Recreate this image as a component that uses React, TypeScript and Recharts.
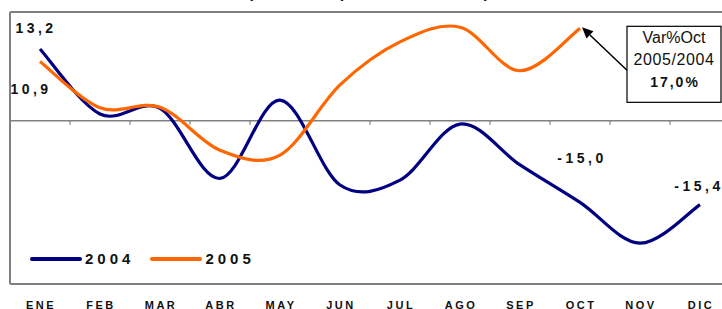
import React from "react";
import {
  LineChart,
  Line,
  XAxis,
  YAxis,
  ReferenceLine,
  ReferenceDot,
  Legend,
  LabelList,
} from "recharts";

const MESES = ["ENE", "FEB", "MAR", "ABR", "MAY", "JUN", "JUL", "AGO", "SEP", "OCT", "NOV", "DIC"];
const SERIE_2004 = [13.2, 1.25, 2.3, -10.6, 3.8, -11.8, -10.9, -0.6, -8.1, -15.0, -22.5, -15.4];
const SERIE_2005 = [10.9, 2.4, 2.5, -5.4, -6.3, 6.6, 14.5, 17.2, 9.2, 17.0, null, null];
const ETIQUETAS_2004 = [0, 9, 11];
const ETIQUETAS_2005 = [0];
const DOMINIO_Y = [-30, 20];
const TITULO = "(Variación porcentual anual)";
const NOTA_MES = "OCT";
const NOTA_VALOR = 17.0;
const NOTA_TEXTO = ["Var%Oct", "2005/2004", "17,0%"];

const data = MESES.map((mes, i) => ({
  mes,
  a2004: SERIE_2004[i],
  a2005: SERIE_2005[i],
}));

const AZUL = "#000080";
const NARANJA = "#FF6600";
const GRIS = "#808080";
const FUENTE = "'Liberation Sans', Arial, sans-serif";

// desplazamiento de cada etiqueta respecto a su punto
const DESPL_2004: Record<number, [number, number]> = { 0: [-4, -21], 9: [2, -44], 11: [-1, -19] };
const DESPL_2005: Record<number, [number, number]> = { 0: [-9, 27] };

// suavizado tipo Excel (Catmull-Rom)
const curvaSuave = (context: any) => {
  let pts: [number, number][] = [];
  return {
    areaStart() {},
    areaEnd() {},
    lineStart() {
      pts = [];
    },
    lineEnd() {
      if (!pts.length) return;
      context.moveTo(pts[0][0], pts[0][1]);
      for (let i = 0; i < pts.length - 1; i++) {
        const p0 = pts[Math.max(0, i - 1)];
        const p1 = pts[i];
        const p2 = pts[i + 1];
        const p3 = pts[Math.min(pts.length - 1, i + 2)];
        context.bezierCurveTo(
          p1[0] + (p2[0] - p0[0]) / 6,
          p1[1] + (p2[1] - p0[1]) / 6,
          p2[0] - (p3[0] - p1[0]) / 6,
          p2[1] - (p3[1] - p1[1]) / 6,
          p2[0],
          p2[1]
        );
      }
    },
    point(x: number, y: number) {
      pts.push([x, y]);
    },
  };
};

const etiqueta = (indices: number[], despl: Record<number, [number, number]>) => (props: any) => {
  const { index, value } = props;
  if (!indices.includes(index) || value == null) return null;
  const vb = props.viewBox || {};
  const x = props.x ?? vb.x;
  const y = props.y ?? vb.y;
  const [dx, dy] = despl[index] || [0, -15];
  return (
    <text
      x={x + dx}
      y={y + dy}
      textAnchor="middle"
      dominantBaseline="central"
      fontFamily={FUENTE}
      fontSize={14}
      fontWeight="bold"
      letterSpacing={3.5}
      fill="#111"
    >
      {Number(value).toFixed(1).replace(".", ",")}
    </text>
  );
};

const lineaCero = (props: any) => {
  const { x1, x2, y1 } = props;
  const a = Math.min(x1, x2);
  const b = Math.max(x1, x2);
  const paso = (b - a) / MESES.length;
  return (
    <g>
      <line x1={a} x2={b} y1={y1} y2={y1} stroke={GRIS} strokeWidth={1.5} />
      {Array.from({ length: MESES.length + 1 }, (_, i) => (
        <line key={i} x1={a + i * paso} x2={a + i * paso} y1={y1} y2={y1 + 4} stroke={GRIS} strokeWidth={1.2} />
      ))}
    </g>
  );
};

const nota = (props: any) => {
  const { cx, cy } = props;
  const bx = cx + 47;
  const by = cy - 2;
  const sx = bx;
  const sy = cy + 42;
  const tx = cx + 2;
  const ty = cy - 1;
  const ang = Math.atan2(ty - sy, tx - sx);
  const hl = 11;
  const hw = 5;
  const bxh = tx - hl * Math.cos(ang);
  const byh = ty - hl * Math.sin(ang);
  const punta = [
    [tx, ty],
    [bxh + hw * Math.sin(ang), byh - hw * Math.cos(ang)],
    [bxh - hw * Math.sin(ang), byh + hw * Math.cos(ang)],
  ]
    .map((p) => p.join(","))
    .join(" ");
  return (
    <g>
      <line x1={sx} y1={sy} x2={bxh} y2={byh} stroke="#000" strokeWidth={1.5} />
      <polygon points={punta} fill="#000" />
      <rect x={bx} y={by} width={94} height={76} fill="#fff" stroke="#000" strokeWidth={1.2} />
      <text x={bx + 47} y={by + 11} textAnchor="middle" dominantBaseline="central" fontFamily={FUENTE} fontSize={16} fill="#111">
        {NOTA_TEXTO[0]}
      </text>
      <text x={bx + 47} y={by + 33} textAnchor="middle" dominantBaseline="central" fontFamily={FUENTE} fontSize={16} letterSpacing={0.6} fill="#111">
        {NOTA_TEXTO[1]}
      </text>
      <text x={bx + 48} y={by + 56} textAnchor="middle" dominantBaseline="central" fontFamily={FUENTE} fontSize={14} fontWeight="bold" letterSpacing={2} fill="#111">
        {NOTA_TEXTO[2]}
      </text>
    </g>
  );
};

const TickMes = (props: any) => {
  const { x, y, payload } = props;
  return (
    <text
      x={x + 1}
      y={y + 21}
      textAnchor="middle"
      dominantBaseline="central"
      fontFamily={FUENTE}
      fontSize={11}
      fontWeight="bold"
      letterSpacing={2.5}
      fill="#111"
    >
      {payload.value}
    </text>
  );
};

const Leyenda = (props: any) => {
  const items = props.payload || [];
  return (
    <div style={{ display: "flex", alignItems: "center", fontFamily: FUENTE }}>
      {items.map((it: any, i: number) => (
        <div key={i} style={{ display: "flex", alignItems: "center", marginRight: 16 }}>
          <svg width={52} height={6}>
            <line x1={2} x2={50} y1={3} y2={3} stroke={it.color} strokeWidth={4} strokeLinecap="round" />
          </svg>
          <span style={{ fontSize: 15, fontWeight: "bold", letterSpacing: 4, marginLeft: 3, color: "#111" }}>
            {it.value}
          </span>
        </div>
      ))}
    </div>
  );
};

export default function App() {
  return (
    <div style={{ position: "fixed", left: 0, top: 0, width: 722, height: 309, overflow: "hidden", background: "#fff" }}>
      <LineChart width={740} height={309} data={data} margin={{ top: 12, right: 10, bottom: 0, left: 9 }}>
        <XAxis
          dataKey="mes"
          padding={{ left: 30, right: 30 }}
          height={25}
          tickSize={0}
          tickMargin={0}
          tickLine={false}
          axisLine={{ stroke: GRIS, strokeWidth: 2 }}
          tick={<TickMes />}
          interval={0}
        />
        <YAxis
          domain={DOMINIO_Y}
          allowDataOverflow
          width={1}
          tick={false}
          tickLine={false}
          axisLine={{ stroke: GRIS, strokeWidth: 2 }}
        />
        <ReferenceLine y={DOMINIO_Y[1]} stroke={GRIS} strokeWidth={2} ifOverflow="visible" />
        <ReferenceLine y={0} shape={lineaCero} />
        <Legend
          layout="horizontal"
          verticalAlign="middle"
          align="center"
          content={<Leyenda />}
          wrapperStyle={{ left: 30, top: 250, width: "auto" }}
        />
        <Line
          dataKey="a2004"
          name="2004"
          type={curvaSuave as any}
          stroke={AZUL}
          strokeWidth={3.2}
          dot={false}
          isAnimationActive={false}
        >
          <LabelList dataKey="a2004" content={etiqueta(ETIQUETAS_2004, DESPL_2004)} />
        </Line>
        <Line
          dataKey="a2005"
          name="2005"
          type={curvaSuave as any}
          stroke={NARANJA}
          strokeWidth={3.2}
          dot={false}
          isAnimationActive={false}
        >
          <LabelList dataKey="a2005" content={etiqueta(ETIQUETAS_2005, DESPL_2005)} />
        </Line>
        <ReferenceDot x={NOTA_MES} y={NOTA_VALOR} r={0} shape={nota} ifOverflow="visible" />
      </LineChart>
      <svg width={722} height={10} style={{ position: "absolute", left: 0, top: 0, zIndex: 5 }}>
        <text x={369} y={-2} textAnchor="middle" fontFamily={FUENTE} fontSize={16} fontWeight="bold" letterSpacing={1} fill="#111">
          {TITULO}
        </text>
      </svg>
    </div>
  );
}
